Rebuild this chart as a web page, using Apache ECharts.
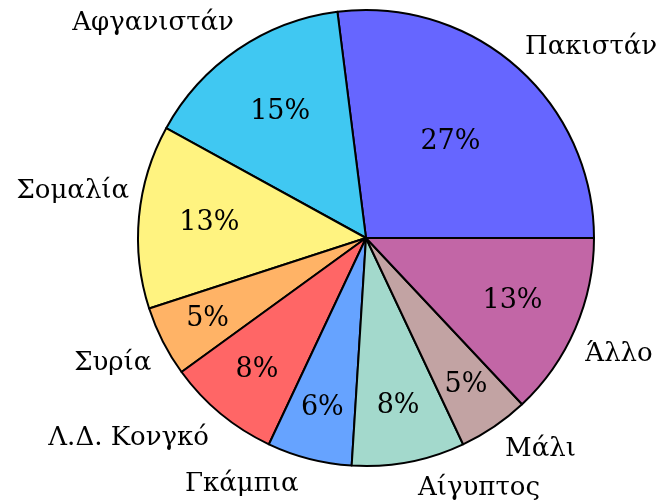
<!DOCTYPE html>
<html><head><meta charset="utf-8">
<script src="https://cdn.jsdelivr.net/npm/echarts@6/dist/echarts.min.js"></script>
<style>html,body{margin:0;padding:0;background:#fff}#c{width:656px;height:502px}</style>
</head><body><div id="c"></div>
<script>
const categories = ['Πακιστάν','Αφγανιστάν','Σομαλία','Συρία','Λ.Δ. Κονγκό','Γκάμπια','Αίγυπτος','Μάλι','Άλλο'];
const values = [27,15,13,5,8,6,8,5,13];
const colors = ['#6666ff','#40c8f2','#fff380','#ffb366','#ff6666','#66a3ff','#a3d9cc','#c2a3a3','#c266a6'];
// label placement tweaks (style, not data)
const nameShift = [[-12,-2],[14,-7],[18,-23],[14,11],[8,7],[0,3],[0,4],[-7,4],[-16,17]];
const pctRadius = [0.56,0.67,0.69,0.78,0.75,0.77,0.75,0.78,0.70];
const FONT = 'DejaVu Serif';
const CX = 366, CY = 238, R = 228;
const chart = echarts.init(document.getElementById('c'));
const data = categories.map((n,i)=>({name:n,value:values[i],itemStyle:{color:colors[i]}}));
chart.setOption({
  animation:false,
  series:[
    {type:'pie',center:[CX,CY],radius:[0,R],startAngle:0,clockwise:false,
     data:data,
     itemStyle:{borderColor:'#000',borderWidth:2},
     label:{show:true,position:'outside',formatter:'{b}',color:'#000',fontFamily:FONT,fontSize:26,overflow:'none'},
     labelLine:{show:false,length:23,length2:0},
     labelLayout:p=>({dx:nameShift[p.dataIndex][0],dy:nameShift[p.dataIndex][1]}),
     emphasis:{disabled:true}},
    {type:'pie',center:[CX,CY],radius:[R*0.2,R],startAngle:0,clockwise:false,silent:true,
     data:categories.map((n,i)=>({name:n,value:values[i]})),
     itemStyle:{color:'transparent',borderWidth:0},
     label:{show:true,position:'inside',formatter:p=>p.value+'%',color:'#000',fontFamily:FONT,fontSize:27},
     labelLine:{show:false},
     labelLayout:p=>{
       const r=p.labelRect; const lx=r.x+r.width/2, ly=r.y+r.height/2;
       const vx=lx-CX, vy=ly-CY, d=Math.hypot(vx,vy), k=pctRadius[p.dataIndex]*R/d;
       return {x:CX+vx*k,y:CY+vy*k,align:'center',verticalAlign:'middle'};
     },
     emphasis:{disabled:true}}
  ]
});
</script></body></html>
